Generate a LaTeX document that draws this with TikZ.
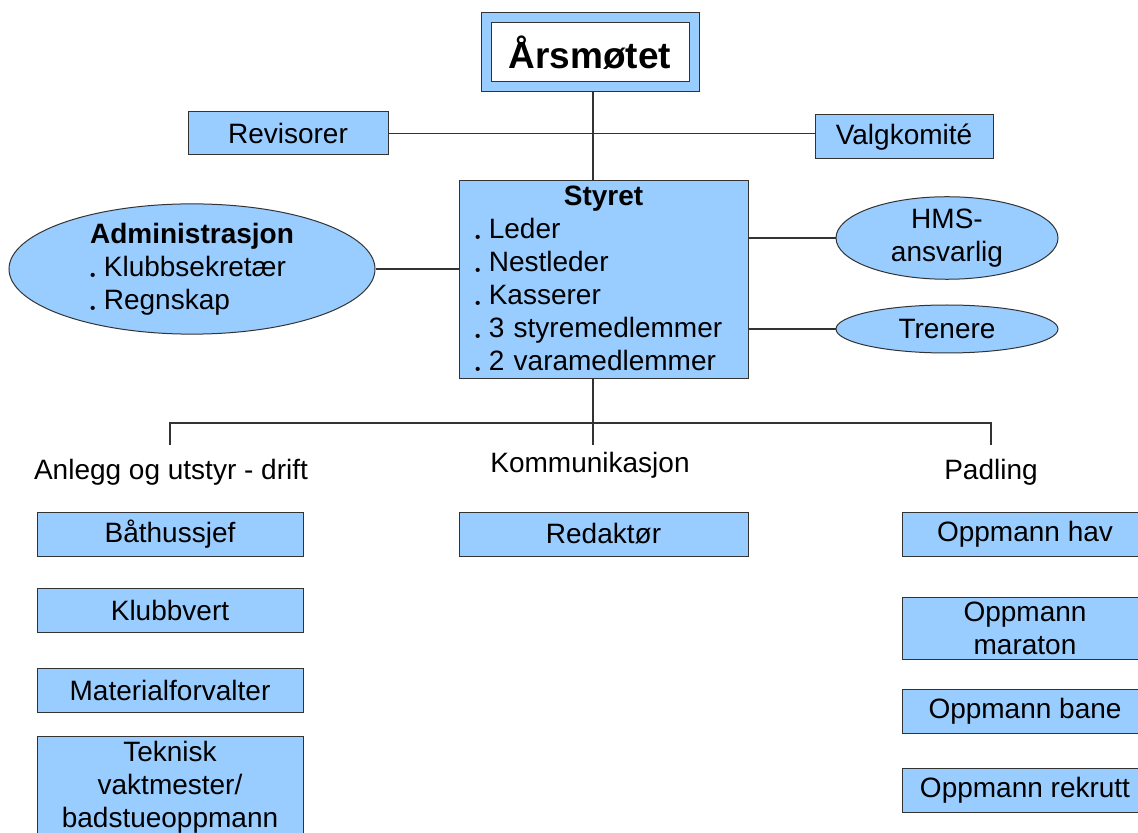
\documentclass[tikz,border=0pt]{standalone}
\usepackage{fontspec}
\setmainfont{Liberation Sans}
\usetikzlibrary{shapes.geometric}
\definecolor{boxblue}{HTML}{99CCFF}
\definecolor{edge}{HTML}{333333}
\newcommand{\blt}{\raisebox{-2pt}{\scalebox{0.55}{\textbullet}}\hspace{0.3em}}

\begin{document}
\begin{tikzpicture}[x=0.5pt,y=-0.5pt,
    every node/.style={font=\fontsize{14}{16.5}\selectfont},
    post/.style={draw=edge,line width=0.5pt,fill=boxblue,rectangle,minimum height=22pt,align=center,inner sep=2pt},
    oval/.style={draw=edge,line width=0.5pt,fill=boxblue,ellipse,inner sep=0pt,minimum width=111pt,align=center},
    wire/.style={draw=edge,line width=0.6pt}]
    \clip (0,0) rectangle (1138,833);
    \node[post,minimum width=109pt,minimum height=39.5pt] (aarsframe) at (590,52.5) {};
    \node[post,fill=white,minimum width=99pt,minimum height=29.5pt,font=\fontsize{18.5}{22}\selectfont\bfseries] (aarsmotet) at (590,52.5) {Årsmøtet};
    \node[post,minimum width=100pt,minimum height=21.5pt] (revisorer) at (288,133.5) {Revisorer};
    \node[post,minimum width=89pt] (valgkomite) at (904,137) {Valgkomité};
    \node[post,minimum width=144.5pt,minimum height=99pt,text width=128.5pt,align=left,inner xsep=8pt] (styret) at (603.5,280) {\makebox[\hsize]{\bfseries Styret}\\ \blt Leder\\ \blt Nestleder\\ \blt Kasserer\\ \blt 3 styremedlemmer\\ \blt 2 varamedlemmer};
    \node[oval,minimum width=183pt,minimum height=64pt,align=left] (admin) at (192,269) {\textbf{Administrasjon}\\ \blt Klubbsekretær\\ \blt Regnskap};
    \node[oval,minimum height=40pt] (hms) at (947,238) {HMS-\\ansvarlig};
    \node[oval,minimum height=24pt] (trenere) at (947,329) {Trenere};
    \coordinate (spine) at (593,423);
    \draw[wire] (aarsframe.south -| spine) -- (styret.north -| spine);
    \draw[wire] (revisorer.east) -- (revisorer.east -| valgkomite.west);
    \draw[wire] (admin.east) -- (admin.east -| styret.west);
    \draw[wire] (styret.east |- hms.west) -- (hms.west);
    \draw[wire] (styret.east |- trenere.west) -- (trenere.west);
    \draw[wire] (styret.south -| spine) -- (spine);
    \node[anchor=base] (anlegg) at (171,479) {Anlegg og utstyr - drift};
    \node[anchor=base] (kommunikasjon) at (590,472) {Kommunikasjon};
    \node[anchor=base] (padling) at (991,479) {Padling};
    \coordinate (anleggtap) at (170,445);
    \coordinate (kommtap) at (593,445);
    \coordinate (padltap) at (991,445);
    \draw[wire] (anleggtap) |- (spine) -| (padltap);
    \draw[wire] (spine) -- (kommtap);
    \node[post,minimum width=133pt] (baathussjef) at (170,534) {Båthussjef};
    \node[post,minimum width=133pt] (klubbvert) at (170,610) {Klubbvert};
    \node[post,minimum width=133pt] (material) at (170,690) {Materialforvalter};
    \node[post,minimum width=133pt,minimum height=49pt] (teknisk) at (170,787) {Teknisk\\vaktmester/\\badstueoppmann};
    \node[post,minimum width=144.5pt] (redaktor) at (603.5,534) {Redaktør};
    \node[post,minimum width=123pt] (hav) at (1025,534) {Oppmann hav};
    \node[post,minimum width=123pt,minimum height=31pt,inner ysep=0pt] (maraton) at (1025,628) {Oppmann\\maraton};
    \node[post,minimum width=123pt] (bane) at (1025,711) {Oppmann bane};
    \node[post,minimum width=123pt] (rekrutt) at (1025,790) {Oppmann rekrutt};
\end{tikzpicture}
\end{document}
